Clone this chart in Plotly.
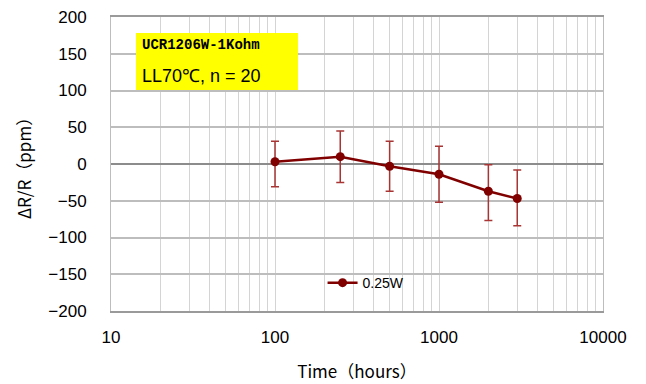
import plotly.graph_objects as go

# Load-life test at 70 °C: resistance drift vs. time
hours = [100, 250, 500, 1000, 2000, 3000]
drift_ppm = [3, 10, -3, -14, -37, -47]
err_plus = [28, 35, 34, 38, 36, 39]
err_minus = [34, 35, 34, 38, 40, 37]
series_name = "0.25W"

y_ticks = [200, 150, 100, 50, 0, -50, -100, -150, -200]
x_decades = [10, 100, 1000, 10000]

# all log-grid positions (1..9 per decade), labels only on decades
x_grid = [m * d for d in [10, 100, 1000] for m in range(1, 10)] + [10000]
x_text = [str(v) if v in x_decades else "" for v in x_grid]

tick_font = dict(family="Liberation Sans, Arial, sans-serif", size=17, color="black")
title_font = dict(family="Noto Sans CJK JP, Arial, sans-serif", size=17, color="black")

fig = go.Figure()
fig.add_trace(go.Scatter(
    x=hours, y=drift_ppm, name=series_name, mode="lines+markers",
    line=dict(color="#800000", width=2.5),
    marker=dict(color="#800000", size=9),
    error_y=dict(type="data", array=err_plus, arrayminus=err_minus,
                 color="#a83434", thickness=1.5, width=4),
))

fig.update_layout(
    width=646, height=384,
    margin=dict(l=111, r=43, t=17, b=73),
    paper_bgcolor="white", plot_bgcolor="white",
    showlegend=True,
    legend=dict(x=0.43, y=0.095, xanchor="left", yanchor="middle",
                bgcolor="rgba(0,0,0,0)",
                font=dict(family="Liberation Sans, Arial, sans-serif", size=14, color="black"),
                itemwidth=30),
    xaxis=dict(
        type="log", range=[1, 4], automargin=False,
        tickmode="array", tickvals=x_grid, ticktext=x_text,
        tickfont=tick_font, ticks="", ticklabelstandoff=10,
        showgrid=True, gridcolor="#d4d4d4", gridwidth=1,
        showline=True, linecolor="#9a9a9a", linewidth=1.5, mirror=True,
        title=dict(text="Time（hours）", font=title_font, standoff=20),
    ),
    yaxis=dict(
        range=[-200, 200], automargin=False,
        tickmode="array", tickvals=y_ticks,
        tickfont=tick_font, ticks="", ticklabelstandoff=20,
        showgrid=True, gridcolor="#bdbdbd", gridwidth=1.5,
        zeroline=True, zerolinecolor="#8c8c8c", zerolinewidth=1.8,
        showline=True, linecolor="#bdbdbd", linewidth=1, mirror=True,
        title=dict(text="ΔR/R（ppm）", font=title_font, standoff=12),
    ),
)

# yellow label box
fig.add_shape(type="rect", xref="paper", yref="paper",
              x0=0.0508, x1=0.380, y0=0.752, y1=0.946,
              fillcolor="#ffff00", line=dict(width=0), layer="above")
fig.add_annotation(xref="paper", yref="paper", x=0.058, y=0.905,
                   xanchor="left", yanchor="middle", showarrow=False,
                   text="<b>UCR1206W-1Kohm</b>",
                   font=dict(family="Liberation Mono, Courier New, monospace", size=14, color="black"))
fig.add_annotation(xref="paper", yref="paper", x=0.058, y=0.80,
                   xanchor="left", yanchor="middle", showarrow=False,
                   text="LL70℃, n = 20",
                   font=dict(family="Liberation Sans, Arial, sans-serif", size=18, color="black"))

fig.write_html("out.html")
